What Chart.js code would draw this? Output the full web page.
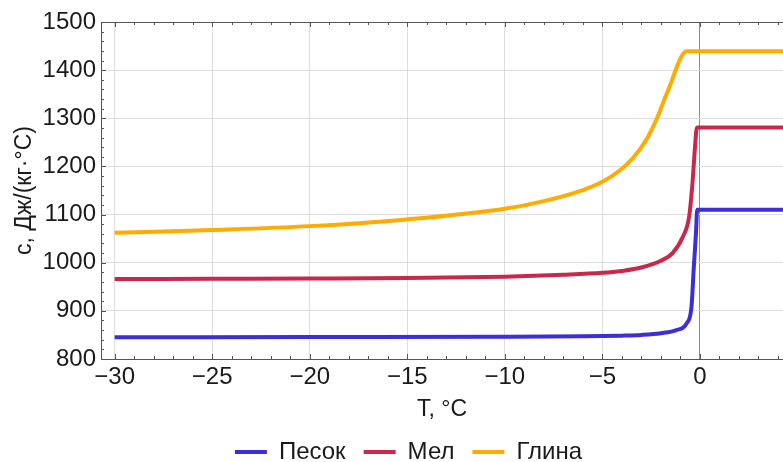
<!DOCTYPE html>
<html>
<head>
<meta charset="utf-8">
<script src="https://cdn.jsdelivr.net/npm/chart.js@4"></script>
<style>
  html, body { margin: 0; padding: 0; background: #fff; }
  #wrap { width: 783px; height: 462px; }
</style>
</head>
<body>
<div id="wrap"><canvas id="heatChart" width="783" height="462"></canvas></div>
<script>
// Series data (temperature °C -> specific heat J/(kg·°C))
const sandT  = [-30, -20, -10, -6, -4, -3, -2, -1.2, -0.68, -0.43, -0.31, -0.2, -0.14, 4.3];
const sandC  = [845, 845.5, 846, 847, 848.5, 850, 853.5, 860, 874, 909, 992, 1062, 1110, 1110];

const chalkT = [-30, -25, -20, -15, -10, -7, -5, -4, -3, -2, -1.4, -0.86, -0.55, -0.38, -0.26, -0.15, 4.3];
const chalkC = [966, 966.5, 967, 968, 971, 975, 979, 983, 990, 1004, 1020, 1055, 1096, 1166, 1235, 1281, 1281];

const clayT  = [-30, -25, -20, -15, -10, -8, -6, -5, -4.1, -3.42, -2.74, -2.2, -1.88, -1.54, -1.2, -0.94, -0.68, 4.3];
const clayC  = [1062, 1068, 1076, 1090, 1112, 1128, 1151, 1168, 1192, 1218, 1256, 1300, 1333, 1367, 1405, 1429, 1439, 1439];

const seriesNames = ['Песок', 'Мел', 'Глина'];

// Axis ticks
const xMajorTicks = [-30, -25, -20, -15, -10, -5, 0];
const yMajorTicks = [800, 900, 1000, 1100, 1200, 1300, 1400, 1500];
const xMinorStep = 1;
const yMinorStep = 20;

const toPoints = (xs, ys) => xs.map((t, i) => ({ x: t, y: ys[i] }));

Chart.defaults.font.family = "'Liberation Sans', Arial, sans-serif";
Chart.defaults.color = '#1a1a1a';

// Mathematica-like frame with inward ticks
const frameTicks = {
  id: 'frameTicks',
  afterDatasetsDraw(chart) {
    const { ctx, chartArea: a, scales: { x, y } } = chart;
    ctx.save();
    ctx.strokeStyle = '#555';
    ctx.lineWidth = 1;
    ctx.beginPath();
    ctx.moveTo(a.left, a.top + 0.5);
    ctx.lineTo(a.right, a.top + 0.5);
    for (let v = Math.ceil(x.min); v <= x.max; v += xMinorStep) {
      const px = Math.round(x.getPixelForValue(v)) + 0.5;
      const len = v % 5 === 0 ? 5 : 3;
      ctx.moveTo(px, a.bottom); ctx.lineTo(px, a.bottom - len);
      ctx.moveTo(px, a.top); ctx.lineTo(px, a.top + len);
    }
    for (let v = y.min; v <= y.max; v += yMinorStep) {
      const py = Math.round(y.getPixelForValue(v)) + 0.5;
      const len = v % 100 === 0 ? 5 : 3;
      ctx.moveTo(a.left, py); ctx.lineTo(a.left + len, py);
    }
    ctx.stroke();
    ctx.restore();
  }
};

// legend in the reference sits a bit right of the canvas centre
const legendShift = {
  id: 'legendShift',
  afterLayout(chart) {
    chart.legend.left += 17;
    chart.legend.right += 17;
  }
};

const ctx = document.getElementById('heatChart').getContext('2d');
new Chart(ctx, {
  type: 'line',
  data: {
    datasets: [
      { label: seriesNames[0], data: toPoints(sandT, sandC), borderColor: '#3d2fd6', backgroundColor: '#3d2fd6' },
      { label: seriesNames[1], data: toPoints(chalkT, chalkC), borderColor: '#c9284b', backgroundColor: '#c9284b' },
      { label: seriesNames[2], data: toPoints(clayT, clayC), borderColor: '#ffab00', backgroundColor: '#ffab00' }
    ]
  },
  options: {
    responsive: false,
    animation: false,
    devicePixelRatio: 1,
    layout: { padding: { top: 22, right: 0, left: 0, bottom: -12 } },
    elements: {
      line: { borderWidth: 4, cubicInterpolationMode: 'monotone', fill: false },
      point: { radius: 0, hoverRadius: 0, borderWidth: 4 }
    },
    scales: {
      x: {
        type: 'linear',
        min: -30.7,
        max: 4.26,
        afterBuildTicks: s => { s.ticks = xMajorTicks.map(v => ({ value: v })); },
        afterFit: s => { s.height = 63; },
        grid: {
          drawTicks: false,
          color: c => (c.tick && c.tick.value === 0 ? '#8c8c8c' : '#dedede'),
          lineWidth: 1
        },
        border: { color: '#555', width: 1 },
        ticks: {
          padding: 4,
          font: { size: 24 },
          callback: v => String(v).replace('-', '\u2212')
        },
        title: { display: true, text: 'T, °C', font: { size: 23 }, padding: { top: 0, bottom: -1 } }
      },
      y: {
        min: 800,
        max: 1500,
        afterBuildTicks: s => { s.ticks = yMajorTicks.map(v => ({ value: v })); },
        afterFit: s => { s.width = 101; },
        grid: { drawTicks: false, color: '#dedede', lineWidth: 1 },
        border: { color: '#555', width: 1 },
        ticks: { padding: 5, font: { size: 24 }, callback: v => String(v) },
        title: { display: true, text: 'c, Дж/(кг·°C)', font: { size: 23 }, padding: { top: 11, bottom: 0 } }
      }
    },
    plugins: {
      legend: {
        position: 'bottom',
        labels: {
          usePointStyle: true,
          pointStyle: 'line',
          pointStyleWidth: 32,
          padding: 18,
          font: { size: 24 }
        }
      },
      tooltip: { enabled: false }
    }
  },
  plugins: [frameTicks, legendShift]
});
</script>
</body>
</html>
